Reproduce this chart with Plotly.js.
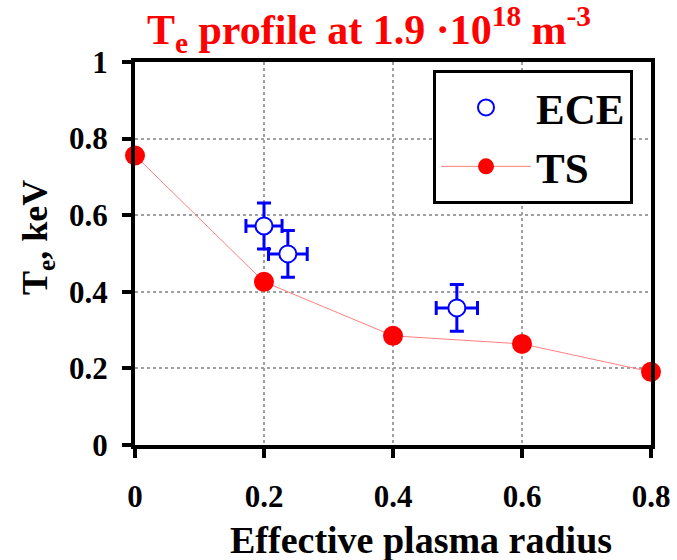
<!DOCTYPE html>
<html>
<head>
<meta charset="utf-8">
<script src="https://cdn.plot.ly/plotly-3.0.1.min.js"></script>
<style>html,body{margin:0;padding:0;background:#fff;}#chart{width:677px;height:560px;}</style>
</head>
<body>
<div id="chart"></div>
<script>
// TS (Thomson scattering) profile
const tsRadius = [0, 0.2, 0.4, 0.6, 0.8];
const tsTe = [0.756, 0.426, 0.285, 0.264, 0.191];
// ECE points with error bars
const eceRadius = [0.2, 0.237, 0.499];
const eceTe = [0.572, 0.499, 0.358];
const eceErrX = [0.028, 0.03, 0.032];
const eceErrY = [0.06, 0.061, 0.061];
const xTicks = [0, 0.2, 0.4, 0.6, 0.8];
const yTicks = [0, 0.2, 0.4, 0.6, 0.8, 1];

const FONT = 'Liberation Serif';

const traces = [
  {
    name: 'ECE', x: eceRadius, y: eceTe, type: 'scatter', mode: 'markers',
    marker: {symbol: 'circle', size: 17, color: '#ffffff', line: {color: '#0000ff', width: 2}},
    error_x: {type: 'data', array: eceErrX, visible: true, color: '#0000ff', thickness: 3, width: 7},
    error_y: {type: 'data', array: eceErrY, visible: true, color: '#0000ff', thickness: 3, width: 7}
  },
  {
    name: 'TS', x: tsRadius, y: tsTe, type: 'scatter', mode: 'lines+markers',
    line: {color: '#ff8080', width: 1},
    marker: {symbol: 'circle', size: 20, color: '#ff0000'},
    cliponaxis: false
  }
];

const axisCommon = {
  showline: true, linecolor: '#000', linewidth: 4, mirror: true,
  ticks: 'outside', ticklen: 9, tickwidth: 4, tickcolor: '#000',
  showgrid: true, gridcolor: '#a0a0a0', gridwidth: 2, griddash: 'dot',
  zeroline: false,
  tickfont: {family: FONT, size: 31, color: '#000', weight: 'bold'}
};

const layout = {
  width: 677, height: 560,
  margin: {l: 135, r: 26, t: 62, b: 115},
  paper_bgcolor: '#fff', plot_bgcolor: '#fff',
  font: {family: FONT, color: '#000'},
  title: {
    text: '<b>T<sub>e</sub> profile at 1.9 ·10<sup>18</sup> m<sup>-3</sup></b>',
    font: {family: FONT, size: 42, color: '#ff0000'},
    x: 369 / 677, xanchor: 'center', y: 1 - 44 / 560, yanchor: 'bottom', yref: 'container'
  },
  xaxis: Object.assign({}, axisCommon, {
    range: [0, 0.8], tickvals: xTicks, ticktext: xTicks.map(String), ticklabelstandoff: 12,
    title: {text: ''}
  }),
  yaxis: Object.assign({}, axisCommon, {
    range: [0, 1], tickvals: yTicks, ticktext: yTicks.map(String), ticklabelstandoff: 8,
    title: {text: ''}
  }),
  showlegend: true,
  legend: {
    x: (433 - 135) / 516, y: (445 - 70) / 383, xanchor: 'left', yanchor: 'top',
    bordercolor: '#000', borderwidth: 3, bgcolor: '#fff',
    font: {family: FONT, size: 43, color: '#000', weight: 'bold'},
    itemwidth: 90
  },
  annotations: [
    {text: '<b>Effective plasma radius</b>', xref: 'paper', yref: 'paper',
     x: (421 - 135) / 516, y: (445 - 540) / 383, xanchor: 'center', yanchor: 'middle',
     showarrow: false, font: {family: FONT, size: 38, color: '#000'}},
    {text: '<b>T<sub>e</sub>, keV</b>', xref: 'paper', yref: 'paper', textangle: -90,
     x: (37 - 135) / 516, y: (445 - 238) / 383, xanchor: 'center', yanchor: 'middle',
     showarrow: false, font: {family: FONT, size: 36, color: '#000'}}
  ]
};

Plotly.newPlot('chart', traces, layout, {displayModeBar: false, staticPlot: true});
</script>
</body>
</html>
